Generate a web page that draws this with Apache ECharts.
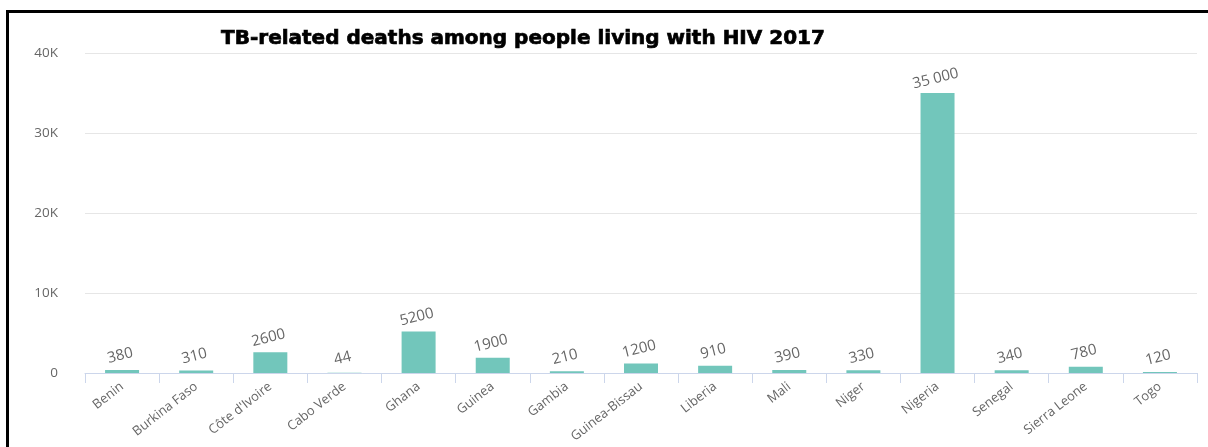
<!DOCTYPE html>
<html><head><meta charset="utf-8">
<script src="https://cdn.jsdelivr.net/npm/echarts@6/dist/echarts.min.js"></script>
<style>
html,body{margin:0;padding:0;background:#fff;}
#c{width:1208px;height:447px;}
#frame{position:absolute;left:6px;top:10px;width:1300px;height:500px;border-left:3px solid #000;border-top:3px solid #000;pointer-events:none;}
</style></head>
<body>
<div id="c"></div>
<div id="frame"></div>
<script>
var categories = ["Benin","Burkina Faso","Côte d'Ivoire","Cabo Verde","Ghana","Guinea","Gambia","Guinea-Bissau","Liberia","Mali","Niger","Nigeria","Senegal","Sierra Leone","Togo"];
var deaths = [380,310,2600,44,5200,1900,210,1200,910,390,330,35000,340,780,120];
var yTicks = [0,10000,20000,30000,40000];
var titleText = "TB-related deaths among people living with HIV 2017";

function fmtVal(v){
  if (v >= 10000) return String(v).replace(/\B(?=(\d{3})+(?!\d))/g, ' ');
  return String(v);
}
var chart = echarts.init(document.getElementById('c'));
chart.setOption({
  animation:false,
  title:{text:titleText,left:518,top:24,textAlign:'center',
    textStyle:{fontFamily:'DejaVu Sans',fontWeight:'bold',fontSize:20,color:'#000',
      textBorderColor:'#000',textBorderWidth:0.7}},
  grid:{left:85,right:11,top:53,bottom:74},
  xAxis:{type:'category',data:categories,
    axisLine:{lineStyle:{color:'#ccd6eb'}},
    axisTick:{show:true,alignWithLabel:false,length:10,lineStyle:{color:'#ccd6eb'}},
    axisLabel:{rotate:38,interval:0,margin:12,color:'#666',fontSize:13,fontFamily:'Open Sans'}},
  yAxis:{type:'value',min:yTicks[0],max:yTicks[yTicks.length-1],interval:10000,
    axisLine:{show:false},axisTick:{show:false},
    splitLine:{lineStyle:{color:'#e6e6e6'}},
    axisLabel:{margin:27,color:'#666',fontSize:13.5,fontFamily:'Open Sans',
      formatter:function(v){return v===0?'0':(v/1000)+'K';}}},
  series:[{type:'bar',data:deaths,barWidth:34,
    itemStyle:{color:'#72c6bb'},
    label:{show:true,position:'top',distance:7,rotate:14,color:'#666',fontSize:15,fontFamily:'Open Sans',
      formatter:function(p){return fmtVal(p.value);}}}]
});
</script>
</body></html>
